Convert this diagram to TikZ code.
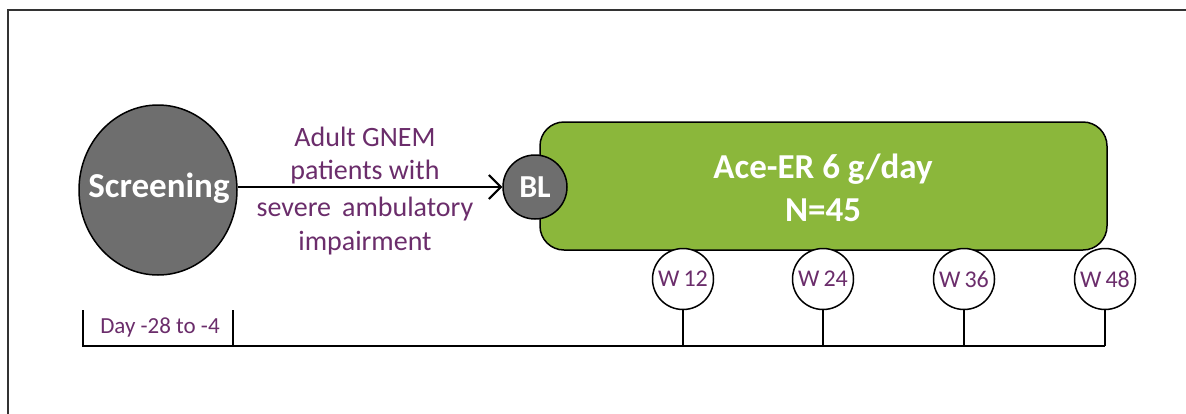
\documentclass[tikz,border=0pt]{standalone}
\usepackage{fontspec}
\setmainfont{Carlito}
\usetikzlibrary{arrows.meta,shapes.geometric}
\definecolor{dgray}{HTML}{6E6E6E}
\definecolor{purp}{HTML}{6B2D6B}
\definecolor{grn}{HTML}{8BB73B}
\definecolor{frm}{HTML}{333333}
\tikzset{
  purptext/.style={text=purp, font=\fontsize{28}{32}\selectfont, align=center, inner sep=0pt},
  wcirc/.style={circle, draw=black, line width=1.5pt, fill=white, minimum size=61pt, inner sep=0pt, text=purp, font=\fontsize{24}{26}\selectfont},
  tline/.style={line width=2.5pt, black},
}
\begin{document}
\begin{tikzpicture}[x=1pt,y=-1pt]
\useasboundingbox (0,0) rectangle (1186,413);
\clip (0,0) rectangle (1186,413);
\fill[white] (0,0) rectangle (1186,413);
\draw[frm, line width=1.5pt] (8,430) -- (8,10) -- (1200,10);

% timeline
\coordinate (tl0) at (83,310);
\coordinate (tl1) at (83,346);
\coordinate (tr) at (1105,346);
\coordinate (tick) at (233,310);
\coordinate (tickb) at (233,346);
\draw[tline, line cap=butt] (tl0) -- (tl1) -- (tr);
\draw[tline] (tick) -- (tickb);
\node[purptext, font=\fontsize{23}{26}\selectfont] (day) at (160,327) {Day -28 to -4};

% green box
\node[draw=black, line width=1.5pt, fill=grn, rounded corners=24pt, minimum width=567pt, minimum height=128pt, inner sep=0pt] (box) at (823.5,186) {};
\node[text=white, font=\bfseries\fontsize{35}{43}\selectfont, align=center] (boxt) at (823,188) {Ace-ER 6 g/day\\N=45};

% screening
\node[ellipse, draw=black, line width=1.5pt, fill=dgray, minimum width=158pt, minimum height=170pt, inner sep=0pt] (scr) at (158,190) {};
\node[text=white, font=\bfseries\fontsize{35}{38}\selectfont, inner sep=0pt] (scrt) at (159,188) {Screening};

% BL
\node[circle, draw=black, line width=1.5pt, fill=dgray, minimum size=64pt, inner sep=0pt] (bl) at (535,187) {};
\node[text=white, font=\bfseries\fontsize{32}{34}\selectfont, inner sep=0pt] (blt) at (535,187) {BL};

\draw[line width=2pt, -{Straight Barb[length=12pt,width=24pt,line width=2pt]}] (scr.east |- 0,187) -- (bl.west);

\node[purptext] (t1) at (365,137) {Adult GNEM};
\node[purptext] (t2) at (365,172) {patients with};
\node[purptext] (t3) at (365,209) {severe\, ambulatory};
\node[purptext] (t4) at (365,243) {impairment};

% week circles
\foreach \n/\x in {12/683,24/823,36/964,48/1105}{
  \node[wcirc] (w\n) at (\x,279) {W\,\n};
  \coordinate (b\n) at (\x,346);
  \draw[tline] (w\n.south) -- (b\n);
}
\end{tikzpicture}
\end{document}
